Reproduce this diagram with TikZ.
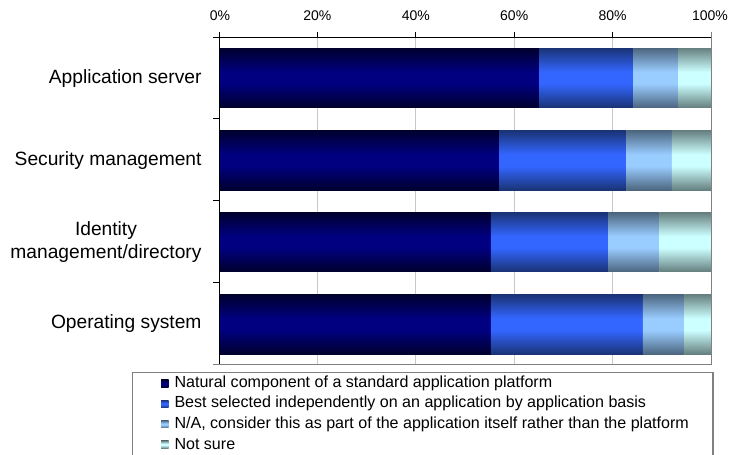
\documentclass[tikz,border=0pt]{standalone}
\usepackage{fontspec}
\setmainfont{Liberation Sans}

\definecolor{gridGray}{RGB}{200,200,200}
\definecolor{axisGray}{RGB}{128,128,128}

\pgfdeclareverticalshading{shNatural}{100bp}{rgb(0bp)=(0,0,0.18); rgb(25bp)=(0,0,0.18); rgb(45bp)=(0,0,0.5); rgb(55bp)=(0,0,0.5); rgb(75bp)=(0,0,0.18); rgb(100bp)=(0,0,0.18)}
\pgfdeclareverticalshading{shBest}{100bp}{rgb(0bp)=(0.1,0.2,0.46); rgb(25bp)=(0.1,0.2,0.46); rgb(45bp)=(0.2,0.4,1); rgb(55bp)=(0.2,0.4,1); rgb(75bp)=(0.1,0.2,0.46); rgb(100bp)=(0.1,0.2,0.46)}
\pgfdeclareverticalshading{shNA}{100bp}{rgb(0bp)=(0.3,0.4,0.5); rgb(25bp)=(0.3,0.4,0.5); rgb(45bp)=(0.6,0.8,1); rgb(55bp)=(0.6,0.8,1); rgb(75bp)=(0.3,0.4,0.5); rgb(100bp)=(0.3,0.4,0.5)}
\pgfdeclareverticalshading{shNotSure}{100bp}{rgb(0bp)=(0.4,0.5,0.5); rgb(25bp)=(0.4,0.5,0.5); rgb(45bp)=(0.8,1,1); rgb(55bp)=(0.8,1,1); rgb(75bp)=(0.4,0.5,0.5); rgb(100bp)=(0.4,0.5,0.5)}

\tikzset{every picture/.style={line width=0.75pt}}
\tikzset{
catlabel/.style={anchor=east, align=center, inner sep=0pt, font=\fontsize{14.4}{17.5}\selectfont},
ticklabel/.style={inner sep=0pt, font=\fontsize{10.5}{12}\selectfont},
legendtext/.style={anchor=west, inner sep=0pt, font=\fontsize{12.05}{14}\selectfont},
gridline/.style={draw=gridGray},
framegray/.style={draw=axisGray}}

\begin{document}
\begin{tikzpicture}[x=0.75pt,y=0.75pt,yscale=-1,xscale=1]
\clip (0,0) rectangle (729,454);
\fill[white] (0,0) rectangle (729,454);

%Shape: Grid lines
\draw[gridline] (317.4,37) -- (317.4,364);
\draw[gridline] (415.8,37) -- (415.8,364);
\draw[gridline] (514.2,37) -- (514.2,364);
\draw[gridline] (612.6,37) -- (612.6,364);

%Shape: Bar Application server
\path[shading=shNatural] (219,48) rectangle (539.2,107.5);
\path[shading=shBest] (539.2,48) rectangle (633.7,107.5);
\path[shading=shNA] (633.7,48) rectangle (678.2,107.5);
\path[shading=shNotSure] (678.2,48) rectangle (711,107.5);
%Shape: Bar Security management
\path[shading=shNatural] (219,130.5) rectangle (499,190);
\path[shading=shBest] (499,130.5) rectangle (626.3,190);
\path[shading=shNA] (626.3,130.5) rectangle (671.8,190);
\path[shading=shNotSure] (671.8,130.5) rectangle (711,190);
%Shape: Bar Identity management/directory
\path[shading=shNatural] (219,212.5) rectangle (490.9,271.5);
\path[shading=shBest] (490.9,212.5) rectangle (608,271.5);
\path[shading=shNA] (608,212.5) rectangle (659.3,271.5);
\path[shading=shNotSure] (659.3,212.5) rectangle (711,271.5);
%Shape: Bar Operating system
\path[shading=shNatural] (219,294.5) rectangle (490.9,354);
\path[shading=shBest] (490.9,294.5) rectangle (642.8,354);
\path[shading=shNA] (642.8,294.5) rectangle (684.3,354);
\path[shading=shNotSure] (684.3,294.5) rectangle (711,354);

%Shape: Axes
\draw[framegray] (213,364) -- (711,364) -- (711,32);
\draw (213,37) -- (711,37);
\draw (219,32) -- (219,364);
\draw (317.4,32) -- (317.4,37);
\draw (415.8,32) -- (415.8,37);
\draw (514.2,32) -- (514.2,37);
\draw (612.6,32) -- (612.6,37);
\draw (213,118.8) -- (219,118.8);
\draw (213,200.6) -- (219,200.6);
\draw (213,282.4) -- (219,282.4);

% Text Node
\node[ticklabel] (t0) at (220,16) {0\%};
\node[ticklabel] (t20) at (317.4,16) {20\%};
\node[ticklabel] (t40) at (415.8,16) {40\%};
\node[ticklabel] (t60) at (514.2,16) {60\%};
\node[ticklabel] (t80) at (612.6,16) {80\%};
\node[ticklabel] (t100) at (710,16) {100\%};

% Text Node
\node[catlabel] (lblApp) at (202,78.3) {Application server};
\node[catlabel] (lblSec) at (202,160.3) {Security management};
\node[catlabel] (lblIdn) at (202,241.7) {Identity\\management/directory};
\node[catlabel] (lblOps) at (202,323.6) {Operating system};

%Shape: Legend
\draw[framegray, line width=1.1pt] (132.5,372.5) rectangle (713,470);
\path[shading=shNatural] (161,379.8) rectangle (168.5,387.3);
\path[shading=shBest] (161,400.1) rectangle (168.5,407.6);
\path[shading=shNA] (161,420.4) rectangle (168.5,427.9);
\path[shading=shNotSure] (161,440.7) rectangle (168.5,448.2);

% Text Node
\node[legendtext] (leg1) at (174,383.5) {Natural component of a standard application platform};
\node[legendtext] (leg2) at (174,403.8) {Best selected independently on an application by application basis};
\node[legendtext] (leg3) at (174,424.1) {N/A, consider this as part of the application itself rather than the platform};
\node[legendtext] (leg4) at (174,444.4) {Not sure};

\end{tikzpicture}
\end{document}
